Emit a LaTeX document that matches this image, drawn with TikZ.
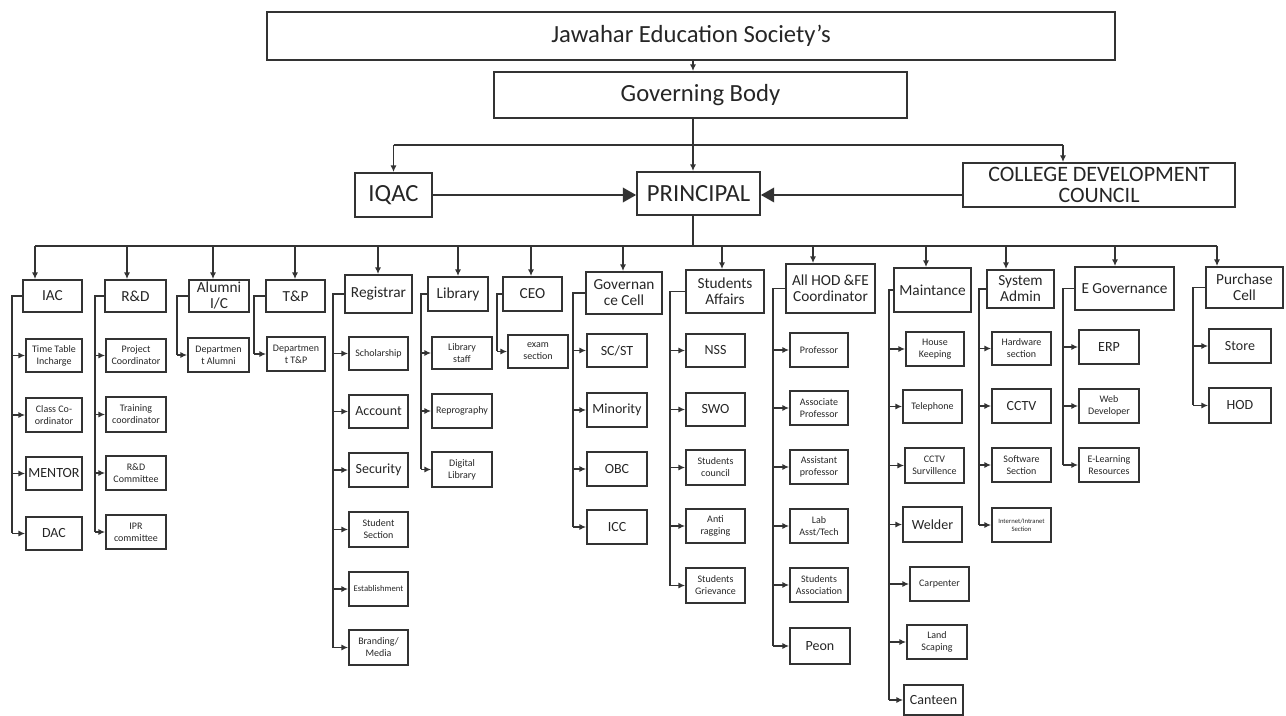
\documentclass[tikz,border=0pt]{standalone}
\usepackage{fontspec}
\setmainfont{Carlito}
\usetikzlibrary{arrows.meta}

\begin{document}
\begin{tikzpicture}[x=0.75pt,y=0.75pt,yscale=-1,xscale=1,
	box/.style={draw=black!80, line width=1.3pt, align=center, inner sep=1pt, text=black!85},
	sz/.style 2 args={minimum width=#1*0.75pt, minimum height=#2*0.75pt},
	ln/.style={draw=black!80, line width=1.2pt},
	arr/.style={ln, -{Latex[length=5pt,width=4.5pt]}},
	bigarr/.style={ln, -{Triangle[length=10pt,width=11pt]}},
	fbig/.style={font=\fontsize{18.5}{20}\selectfont},
	ftop/.style={font=\fontsize{11.5}{12}\selectfont},
	fmid/.style={font=\fontsize{10.5}{11}\selectfont},
	ftiny/.style={font=\fontsize{7.5}{9}\selectfont}]
	\useasboundingbox (0,0) rectangle (1286,716);
	
	%Top of chart
	\node[box, sz={848}{48}, fbig] (jes) at (691,36) {Jawahar Education Society's};
	\node[box, sz={413}{46}, fbig] (gb) at (700.5,95) {Governing Body};
	\node[box, sz={77}{44}, fbig] (iqac) at (393.5,195) {IQAC};
	\node[box, sz={123}{43}, fbig] (principal) at (698.5,193.5) {PRINCIPAL};
	\node[box, sz={272}{44}, font=\fontsize{16.5}{16}\selectfont] (cdc) at (1099,185) {\smash{\raisebox{-13.5pt}{\begin{tabular}[b]{@{}c@{}}COLLEGE DEVELOPMENT\\COUNCIL\end{tabular}}}};
	
	\coordinate (spine) at (693,0);
	\coordinate (b1l) at (393.5,145);
	\coordinate (b1r) at (1063,145);
	\coordinate (b2l) at (35,246);
	\coordinate (b2r) at (1217,246);
	
	\draw[arr] (spine |- jes.south) -- (spine |- gb.north);
	\draw[ln] (spine |- gb.south) -- (spine |- b1l);
	\draw[ln] (b1l) -- (b1r);
	\draw[arr] (b1l) -- (iqac.north);
	\draw[arr] (spine |- b1l) -- (spine |- principal.north);
	\draw[arr] (b1r) -- (b1r |- cdc.north);
	\draw[bigarr] (iqac.east) -- (iqac.east -| principal.west);
	\draw[bigarr] (cdc.west |- iqac.east) -- (principal.east |- iqac.east);
	\draw[ln] (spine |- principal.south) -- (spine |- b2l);
	\draw[ln] (b2l) -- (b2r);
	
	%Column: IAC
	\node[box, sz={59}{32}, ftop] (iac) at (52.5,296) {IAC};
	\node[box, sz={56}{33}, ftiny] (iac1) at (54,355.5) {Time Table\\Incharge};
	\node[box, sz={56}{34}, ftiny] (iac2) at (54,415) {Class Co-\\ordinator};
	\node[box, sz={56}{33}, fmid] (iac3) at (54,473.5) {MENTOR};
	\node[box, sz={56}{33}, fmid] (iac4) at (54,533.5) {DAC};
	\coordinate (iacd) at (35,246);
	\coordinate (iacv) at (12,0);
	\draw[arr] (iacd) -- (iacd |- iac.north);
	\draw[ln] (iac.west) -| (iacv |- iac4.west);
	\foreach \k in {iac1,iac2,iac3,iac4} \draw[arr] (iacv |- \k.west) -- (\k.west);
	
	%Column: R&D
	\node[box, sz={61}{32}, ftop] (rnd) at (135.5,296) {R\&D};
	\node[box, sz={60}{33}, ftiny] (rnd1) at (136,355.5) {Project\\Coordinator};
	\node[box, sz={60}{35}, ftiny] (rnd2) at (136,414.5) {Training\\coordinator};
	\node[box, sz={60}{34}, ftiny] (rnd3) at (136,473) {R\&D\\Committee};
	\node[box, sz={60}{34}, ftiny] (rnd4) at (136,532) {IPR\\committee};
	\coordinate (rndd) at (127,246);
	\coordinate (rndv) at (95,0);
	\draw[arr] (rndd) -- (rndd |- rnd.north);
	\draw[ln] (rnd.west) -| (rndv |- rnd4.west);
	\foreach \k in {rnd1,rnd2,rnd3,rnd4} \draw[arr] (rndv |- \k.west) -- (\k.west);
	
	%Column: Alumni
	\node[box, sz={60}{32}, ftop] (alu) at (219,296) {Alumni\\I/C};
	\node[box, sz={61}{34}, ftiny] (alu1) at (218.5,355) {Departmen\\t Alumni};
	\coordinate (alud) at (213,246);
	\coordinate (aluv) at (177,0);
	\draw[arr] (alud) -- (alud |- alu.north);
	\draw[ln] (alu.west) -| (aluv |- alu1.west);
	\draw[arr] (aluv |- alu1.west) -- (alu1.west);
	
	%Column: T&P
	\node[box, sz={59}{32}, ftop] (tnp) at (295.5,296) {T\&P};
	\node[box, sz={58}{34}, ftiny] (tnp1) at (296,354) {Departmen\\t T\&P};
	\coordinate (tnpd) at (295,246);
	\coordinate (tnpv) at (254,0);
	\draw[arr] (tnpd) -- (tnpd |- tnp.north);
	\draw[ln] (tnp.west) -| (tnpv |- tnp1.west);
	\draw[arr] (tnpv |- tnp1.west) -- (tnp1.west);
	
	%Column: Registrar
	\node[box, sz={67}{38}, ftop] (reg) at (378.5,294) {Registrar};
	\node[box, sz={59}{33}, ftiny] (reg1) at (378.5,353.5) {Scholarship};
	\node[box, sz={59}{33}, fmid] (reg2) at (378.5,411.5) {Account};
	\node[box, sz={59}{34}, fmid] (reg3) at (378.5,470) {Security};
	\node[box, sz={59}{35}, ftiny] (reg4) at (378.5,529.5) {Student\\Section};
	\node[box, sz={59}{34}, font=\fontsize{6.5}{8}\selectfont] (reg5) at (378.5,589) {Establishment};
	\node[box, sz={59}{35}, ftiny] (reg6) at (378.5,647.5) {Branding/\\Media};
	\coordinate (regd) at (378,246);
	\coordinate (regv) at (333,0);
	\draw[arr] (regd) -- (regd |- reg.north);
	\draw[ln] (reg.west) -| (regv |- reg6.west);
	\foreach \k in {reg1,reg2,reg3,reg4,reg5,reg6} \draw[arr] (regv |- \k.west) -- (\k.west);
	
	%Column: Library
	\node[box, sz={60}{34}, ftop] (lib) at (458,294) {Library};
	\node[box, sz={60}{32}, ftiny] (lib1) at (462,353) {Library\\staff};
	\node[box, sz={60}{34}, ftiny] (lib2) at (462,411) {Reprography};
	\node[box, sz={60}{35}, ftiny] (lib3) at (462,469.5) {Digital\\Library};
	\coordinate (libd) at (458,246);
	\coordinate (libv) at (421,0);
	\draw[arr] (libd) -- (libd |- lib.north);
	\draw[ln] (lib.west) -| (libv |- lib3.west);
	\foreach \k in {lib1,lib2,lib3} \draw[arr] (libv |- \k.west) -- (\k.west);
	
	%Column: CEO
	\node[box, sz={59}{34}, ftop] (ceo) at (532.5,294) {CEO};
	\node[box, sz={60}{33}, ftiny] (ceo1) at (538,351.5) {exam\\section};
	\coordinate (ceod) at (531,246);
	\coordinate (ceov) at (497,0);
	\draw[arr] (ceod) -- (ceod |- ceo.north);
	\draw[ln] (ceo.west) -| (ceov |- ceo1.west);
	\draw[arr] (ceov |- ceo1.west) -- (ceo1.west);
	
	%Column: Governance Cell
	\node[box, sz={76}{42}, ftop] (gov) at (624,293) {Governan\\ce Cell};
	\node[box, sz={60}{33}, fmid] (gov1) at (617,350.5) {SC/ST};
	\node[box, sz={60}{34}, fmid] (gov2) at (617,410) {Minority};
	\node[box, sz={60}{34}, fmid] (gov3) at (617,469) {OBC};
	\node[box, sz={60}{34}, fmid] (gov4) at (617,527) {ICC};
	\coordinate (govd) at (623,246);
	\coordinate (govv) at (573,0);
	\draw[arr] (govd) -- (govd |- gov.north);
	\draw[ln] (gov.west) -| (govv |- gov4.west);
	\foreach \k in {gov1,gov2,gov3,gov4} \draw[arr] (govv |- \k.west) -- (\k.west);
	
	%Column: Students Affairs
	\node[box, sz={78}{43}, ftop] (sa) at (725,291.5) {Students\\Affairs};
	\node[box, sz={59}{33}, fmid] (sa1) at (715.5,350.5) {NSS};
	\node[box, sz={59}{33}, fmid] (sa2) at (715.5,409.5) {SWO};
	\node[box, sz={59}{35}, ftiny] (sa3) at (715.5,467.5) {Students\\council};
	\node[box, sz={59}{34}, ftiny] (sa4) at (715.5,526) {Anti\\ragging};
	\node[box, sz={59}{35}, ftiny] (sa5) at (715.5,585.5) {Students\\Grievance};
	\coordinate (sad) at (722,246);
	\coordinate (sav) at (670,0);
	\draw[arr] (sad) -- (sad |- sa.north);
	\draw[ln] (sa.west) -| (sav |- sa5.west);
	\foreach \k in {sa1,sa2,sa3,sa4,sa5} \draw[arr] (sav |- \k.west) -- (\k.west);
	
	%Column: All HOD & FE Coordinator
	\node[box, sz={89}{49}, ftop] (hod) at (830.5,288.5) {All HOD \&FE\\Coordinator};
	\node[box, sz={58}{34}, ftiny] (hod1) at (819,350) {Professor};
	\node[box, sz={58}{34}, ftiny] (hod2) at (819,408) {Associate\\Professor};
	\node[box, sz={58}{34}, ftiny] (hod3) at (819,467) {Assistant\\professor};
	\node[box, sz={58}{34}, ftiny] (hod4) at (819,526) {Lab\\Asst/Tech};
	\node[box, sz={58}{34}, ftiny] (hod5) at (819,585) {Students\\Association};
	\node[box, sz={60}{36}, fmid] (hod6) at (820,646) {Peon};
	\coordinate (hodd) at (813,246);
	\coordinate (hodv) at (773,0);
	\draw[arr] (hodd) -- (hodd |- hod.north);
	\draw[ln] (hod.west) -| (hodv |- hod6.west);
	\foreach \k in {hod1,hod2,hod3,hod4,hod5,hod6} \draw[arr] (hodv |- \k.west) -- (\k.west);
	
	%Column: Maintance
	\node[box, sz={77}{44}, ftop] (mnt) at (932.5,290) {Maintance};
	\node[box, sz={58}{34}, ftiny] (mnt1) at (935,349) {House\\Keeping};
	\node[box, sz={59}{33}, ftiny] (mnt2) at (932.5,406.5) {Telephone};
	\node[box, sz={59}{35}, ftiny] (mnt3) at (934.5,465.5) {CCTV\\Survillence};
	\node[box, sz={59}{35}, fmid] (mnt4) at (932.5,524.5) {Welder};
	\node[box, sz={59}{34}, ftiny] (mnt5) at (939.5,584) {Carpenter};
	\node[box, sz={60}{34}, ftiny] (mnt6) at (937,642) {Land\\Scaping};
	\node[box, sz={59}{30}, fmid] (mnt7) at (933.5,700) {Canteen};
	\coordinate (mntd) at (926,246);
	\coordinate (mntv) at (889,0);
	\draw[arr] (mntd) -- (mntd |- mnt.north);
	\draw[ln] (mnt.west) -| (mntv |- mnt7.west);
	\foreach \k in {mnt1,mnt2,mnt3,mnt4,mnt5,mnt6,mnt7} \draw[arr] (mntv |- \k.west) -- (\k.west);
	
	%Column: System Admin
	\node[box, sz={67}{38}, ftop] (sys) at (1020.5,289) {System\\Admin};
	\node[box, sz={59}{33}, ftiny] (sys1) at (1021.5,348.5) {Hardware\\section};
	\node[box, sz={59}{34}, fmid] (sys2) at (1021.5,406) {CCTV};
	\node[box, sz={59}{34}, ftiny] (sys3) at (1021.5,465) {Software\\Section};
	\node[box, sz={59}{34}, font=\fontsize{5}{6}\selectfont] (sys4) at (1021.5,525) {Internet/Intranet\\Section};
	\coordinate (sysd) at (1006,246);
	\coordinate (sysv) at (979,0);
	\draw[arr] (sysd) -- (sysd |- sys.north);
	\draw[ln] (sys.west) -| (sysv |- sys4.west);
	\foreach \k in {sys1,sys2,sys3,sys4} \draw[arr] (sysv |- \k.west) -- (\k.west);
	
	%Column: E Governance
	\node[box, sz={99}{43}, ftop] (egov) at (1124.5,288.5) {E Governance};
	\node[box, sz={60}{34}, fmid] (egov1) at (1109,347) {ERP};
	\node[box, sz={60}{34}, ftiny] (egov2) at (1109,406) {Web\\Developer};
	\node[box, sz={60}{34}, ftiny] (egov3) at (1109,465) {E-Learning\\Resources};
	\coordinate (egovd) at (1115,246);
	\coordinate (egovv) at (1063,0);
	\draw[arr] (egovd) -- (egovd |- egov.north);
	\draw[ln] (egov.west) -| (egovv |- egov3.west);
	\foreach \k in {egov1,egov2,egov3} \draw[arr] (egovv |- \k.west) -- (\k.west);
	
	%Column: Purchase Cell
	\node[box, sz={77}{41}, ftop] (pur) at (1244.5,287.5) {Purchase\\Cell};
	\node[box, sz={62}{34}, fmid] (pur1) at (1240,346) {Store};
	\node[box, sz={62}{35}, fmid] (pur2) at (1240,405.5) {HOD};
	\coordinate (purd) at (1217,246);
	\coordinate (purv) at (1193,0);
	\draw[arr] (purd) -- (purd |- pur.north);
	\draw[ln] (pur.west) -| (purv |- pur2.west);
	\foreach \k in {pur1,pur2} \draw[arr] (purv |- \k.west) -- (\k.west);
	
\end{tikzpicture}
\end{document}
